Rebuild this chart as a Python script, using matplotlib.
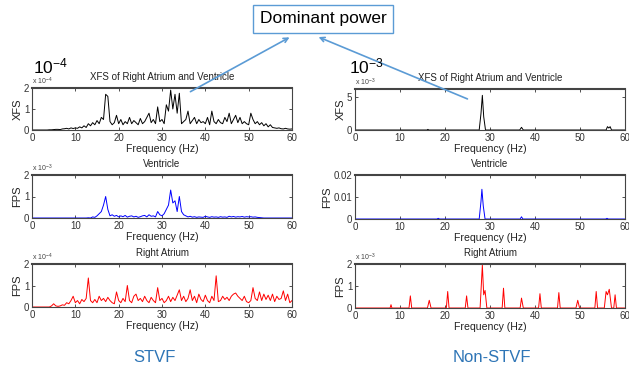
import numpy as np
import matplotlib.pyplot as plt
from matplotlib.patches import FancyArrowPatch

plt.rcParams['font.family'] = ['Liberation Sans', 'DejaVu Sans']
plt.rcParams['mathtext.fontset'] = 'custom'
plt.rcParams['mathtext.rm'] = 'Liberation Sans'
plt.rcParams['mathtext.it'] = 'Liberation Sans:italic'
plt.rcParams['mathtext.bf'] = 'Liberation Sans:bold'

# frequency grid for the STVF spectra (0.5 Hz steps)
freq = np.arange(0, 60.5, 0.5)

# STVF cross spectrum, units of 1e-4
stvf_xfs = [0, 0, 0, 0, 0, 0, 0, 0, 0.01, 0.01,
            0.02, 0.03, 0.03, 0.02, 0.05, 0.06, 0.08, 0.05, 0.1, 0.07,
            0.1, 0.08, 0.15, 0.1, 0.2, 0.12, 0.3, 0.2, 0.35, 0.25,
            0.45, 0.3, 0.6, 0.5, 1.7, 1.6, 0.4, 0.25, 0.35, 0.7,
            0.3, 0.5, 0.25, 0.4, 0.3, 0.6, 0.3, 0.45, 0.35, 0.25,
            0.55, 0.3, 0.4, 0.6, 0.8, 0.35, 0.5, 0.3, 1.1, 0.4,
            0.5, 0.3, 1.2, 0.9, 1.9, 1.0, 1.7, 0.8, 1.75, 0.3,
            0.4, 0.5, 0.9, 0.3, 0.45, 0.6, 0.3, 0.5, 0.35, 0.4,
            0.3, 0.6, 0.25, 0.9, 0.4, 0.3, 0.5, 0.35, 0.3, 0.6,
            0.4, 0.8, 0.3, 0.5, 0.7, 0.35, 0.6, 0.3, 0.4, 0.3,
            0.25, 0.8, 0.5, 0.3, 0.4, 0.25, 0.35, 0.2, 0.3, 0.15,
            0.25, 0.12, 0.1, 0.08, 0.1, 0.06, 0.05, 0.08, 0.05, 0.04,
            0.05]

# STVF ventricle power, units of 1e-3
stvf_vent = [0, 0, 0, 0, 0, 0, 0, 0, 0, 0,
             0, 0, 0, 0, 0, 0, 0, 0, 0, 0,
             0, 0, 0, 0, 0, 0, 0.01, 0, 0.05, 0.03,
             0.1, 0.2, 0.3, 0.6, 1.0, 0.4, 0.1, 0.15, 0.08, 0.12,
             0.05, 0.1, 0.06, 0.12, 0.04, 0.08, 0.1, 0.05, 0.08, 0.03,
             0.06, 0.1, 0.12, 0.05, 0.15, 0.08, 0.1, 0.05, 0.3, 0.15,
             0.1, 0.2, 0.4, 0.6, 1.3, 0.7, 0.8, 0.3, 1.0, 0.3,
             0.15, 0.1, 0.05, 0.08, 0.04, 0.06, 0.03, 0.05, 0.04, 0.03,
             0.08, 0.05, 0.03, 0.06, 0.04, 0.05, 0.03, 0.06, 0.04, 0.05,
             0.03, 0.08, 0.05, 0.07, 0.04, 0.06, 0.05, 0.07, 0.04, 0.06,
             0.05, 0.06, 0.04, 0.05, 0.03, 0.02, 0.01, 0, 0, 0,
             0, 0, 0, 0, 0, 0, 0, 0, 0, 0,
             0]

# STVF right atrium power, units of 1e-4
stvf_atrium = [0, 0, 0, 0, 0, 0, 0, 0, 0, 0.05,
               0.15, 0.05, 0.03, 0.05, 0.1, 0.08, 0.2, 0.15, 0.3, 0.5,
               0.2, 0.3, 0.15, 0.35, 0.25, 0.4, 1.35, 0.3, 0.2, 0.35,
               0.2, 0.5, 0.3, 0.4, 0.25, 0.45, 0.3, 0.2, 0.15, 0.7,
               0.3, 0.2, 0.4, 0.25, 1.0, 0.3, 0.2, 0.5, 0.6, 0.3,
               0.4, 0.25, 0.5, 0.3, 0.2, 0.45, 0.3, 0.2, 0.9, 0.3,
               0.4, 0.2, 0.3, 0.5, 0.25, 0.45, 0.3, 0.55, 0.8, 0.3,
               0.5, 0.25, 0.4, 0.8, 0.3, 0.5, 0.2, 0.6, 0.35, 0.25,
               0.55, 0.3, 0.2, 0.5, 0.3, 1.45, 0.25, 0.3, 0.5, 0.35,
               0.45, 0.3, 0.5, 0.6, 0.65, 0.5, 0.4, 0.3, 0.5, 0.25,
               0.2, 0.3, 0.9, 0.4, 0.3, 0.7, 0.3, 0.6, 0.35, 0.55,
               0.3, 0.6, 0.25, 0.5, 0.35, 0.4, 0.75, 0.3, 0.6, 0.2,
               0.3]

# Non-STVF spectra are flat apart from narrow peaks, so keep their breakpoints
nstvf_xfs_f = [0, 16.0, 16.2, 16.4, 27.6, 28.0, 28.3, 28.6, 29.0, 36.6, 37.0, 37.4,
               55.8, 56.1, 56.4, 56.7, 57.0, 60]
nstvf_xfs = [0, 0, 0.1, 0, 0, 2.5, 5.2, 2.0, 0, 0, 0.4, 0,
             0, 0.5, 0.3, 0.5, 0, 0]

nstvf_vent_f = [0, 18.2, 18.5, 18.8, 27.6, 28.0, 28.2, 28.5, 28.9, 36.7, 37.0, 37.3,
                55.7, 56.0, 56.3, 60]
nstvf_vent = [0, 0, 0.0003, 0, 0, 0.008, 0.0135, 0.006, 0, 0, 0.001, 0,
              0, 0.0003, 0, 0]

nstvf_atrium_f = [0, 7.8, 8.0, 8.2, 12.0, 12.3, 12.6, 16.1, 16.5, 16.9, 20.3, 20.6, 20.9,
                  24.5, 24.8, 25.1, 27.8, 28.3, 28.6, 28.9, 29.3, 32.7, 33.0, 33.3,
                  36.7, 37.0, 37.4, 40.8, 41.1, 41.4, 45.0, 45.3, 45.6, 49.1, 49.5, 49.9,
                  53.3, 53.6, 53.9, 55.4, 55.8, 56.1, 56.5, 57.0, 57.5, 57.8, 58.1, 60]
nstvf_atrium = [0, 0, 0.15, 0, 0, 0.55, 0, 0, 0.35, 0, 0, 0.75, 0,
                0, 0.55, 0, 0, 1.95, 0.6, 0.8, 0, 0, 0.9, 0,
                0, 0.45, 0, 0, 0.65, 0, 0, 0.7, 0, 0, 0.35, 0,
                0, 0.75, 0, 0, 0.75, 0.6, 0.85, 0, 0, 0.6, 0, 0]

fig = plt.figure(figsize=(6.29, 3.66), dpi=100)

W, H = 629, 366


def add_ax(left, top, right, bottom):
    return fig.add_axes([left / W, 1 - bottom / H, (right - left) / W, (bottom - top) / H])


def style(ax, ylim, yticks, yticklabels, ylabel, title, mult=None):
    ax.set_xlim(0, 60)
    ax.set_xticks(range(0, 61, 10))
    ax.set_ylim(*ylim)
    ax.set_yticks(yticks)
    ax.set_yticklabels(yticklabels)
    ax.tick_params(direction='in', top=True, right=True, length=2.5, width=0.6,
                   labelsize=7, colors='#333333', pad=2)
    for s in ax.spines.values():
        s.set_color('#444444')
        s.set_linewidth(0.8)
    ax.spines['top'].set_linewidth(1.5)
    ax.set_xlabel('Frequency (Hz)', fontsize=7.6, labelpad=1, color='#222222')
    ax.set_ylabel(ylabel, fontsize=8, labelpad=1, color='#222222')
    ax.set_title(title, fontsize=7, pad=6, color='#222222')
    if mult:
        ax.text(0.0, 1.03, 'x 10$^{' + mult + '}$', transform=ax.transAxes,
                fontsize=5, color='#444444', va='bottom', ha='left')


# STVF column
ax1 = add_ax(32, 88, 292, 130)
ax1.plot(freq, stvf_xfs, color='black', lw=0.7)
style(ax1, (0, 2), [0, 1, 2], ['0', '1', '2'], 'XFS', 'XFS of Right Atrium and Ventricle', '-4')

ax2 = add_ax(32, 175, 292, 218)
ax2.plot(freq, stvf_vent, color='blue', lw=0.7)
style(ax2, (0, 2), [0, 1, 2], ['0', '1', '2'], 'FPS', 'Ventricle', '-3')

ax3 = add_ax(32, 264, 292, 307)
ax3.plot(freq, stvf_atrium, color='red', lw=0.7)
style(ax3, (0, 2), [0, 1, 2], ['0', '1', '2'], 'FPS', 'Right Atrium', '-4')

# Non-STVF column
ax4 = add_ax(355, 89, 625, 130)
ax4.plot(nstvf_xfs_f, nstvf_xfs, color='black', lw=0.7)
style(ax4, (0, 6.15), [0, 5], ['0', '5'], 'XFS', 'XFS of Right Atrium and Ventricle', '-3')

ax5 = add_ax(355, 175, 625, 219)
ax5.plot(nstvf_vent_f, nstvf_vent, color='blue', lw=0.7)
style(ax5, (0, 0.02), [0, 0.01, 0.02], ['0', '0.01', '0.02'], 'FPS', 'Ventricle')

ax6 = add_ax(355, 264, 625, 308)
ax6.plot(nstvf_atrium_f, nstvf_atrium, color='red', lw=0.7)
style(ax6, (0, 2), [0, 1, 2], ['0', '1', '2'], 'FPS', 'Right Atrium', '-3')

# large scale markers above the top panels
fig.text(33 / W, 1 - 73 / H, '10$^{-4}$', fontsize=12.5, ha='left', va='baseline')
fig.text(349 / W, 1 - 73 / H, '10$^{-3}$', fontsize=12.5, ha='left', va='baseline')

# group labels
blue = '#2e75b6'
fig.text(154 / W, 1 - 357 / H, 'STVF', fontsize=12, color=blue, ha='center', va='center')
fig.text(492 / W, 1 - 357 / H, 'Non-STVF', fontsize=12, color=blue, ha='center', va='center')

# callout box with arrows to the peaks
arrow_col = '#5b9bd5'
fig.text(323 / W, 1 - 19 / H, 'Dominant power', fontsize=12.5, ha='center', va='center',
         bbox=dict(boxstyle='square,pad=0.4', fc='white', ec=arrow_col, lw=1))
fig.add_artist(FancyArrowPatch(
    (188 / W, 1 - 93 / H), (292 / W, 1 - 36 / H), transform=fig.transFigure,
    arrowstyle='->', mutation_scale=8, color=arrow_col, lw=1.2))
fig.add_artist(FancyArrowPatch(
    (470 / W, 1 - 100 / H), (316 / W, 1 - 36 / H), transform=fig.transFigure,
    arrowstyle='->', mutation_scale=8, color=arrow_col, lw=1.2))

fig.savefig('out.png', dpi=100)
